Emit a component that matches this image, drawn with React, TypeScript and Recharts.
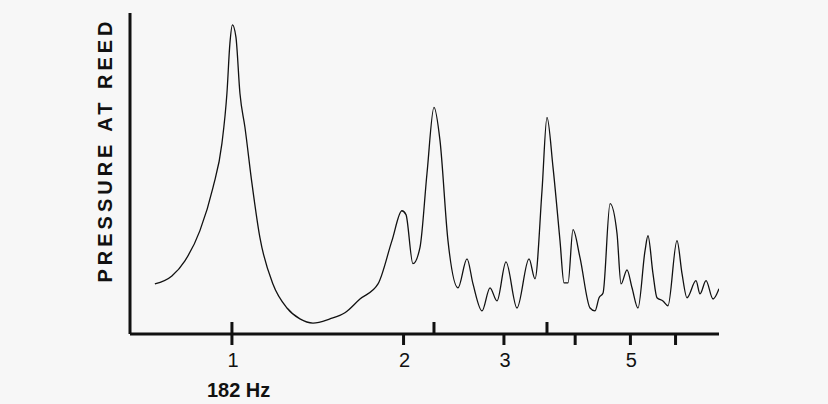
import React from 'react';
import { LineChart, Line, XAxis, YAxis } from 'recharts';

// frequency as a multiple of the first resonance (182 Hz), log axis
const FREQ_RATIO = [
  0.7325, 0.7846, 0.827, 0.8787, 0.9262, 0.9604, 0.98, 0.9919, 1.002, 1.0163,
  1.0328, 1.0539, 1.0842, 1.1197, 1.18, 1.249, 1.316, 1.3874, 1.4855, 1.5782,
  1.6771, 1.804, 1.9086, 1.987, 2.0197, 2.0773, 2.137, 2.1985, 2.2616, 2.317,
  2.393, 2.492, 2.5843, 2.6476, 2.7457, 2.8358, 2.9171, 3.0249, 3.1623, 3.3198,
  3.401, 3.4987, 3.5697, 3.6578, 3.7622, 3.8242, 3.8864, 3.9652, 4.0789, 4.2478,
  4.334, 4.4053, 4.477, 4.6055, 4.7367, 4.8147, 4.9317, 5.0325, 5.1556, 5.3036,
  5.3675, 5.4772, 5.5663, 5.7023, 5.8189, 6.0352, 6.1588, 6.2836, 6.5163, 6.6236,
  6.7856, 6.9804, 7.1512,
];

// relative pressure at the reed (0-100, no scale printed)
const PRESSURE = [
  15.6, 18.1, 22.8, 32.2, 45.6, 59.4, 75, 90.6, 96.3, 92.5,
  75, 64.4, 46.9, 30, 15.6, 8.1, 4.7, 3.4, 4.7, 6.6,
  10.9, 15.6, 29.1, 38.4, 37.2, 21.9, 26.9, 50, 70.6, 60.3,
  29.1, 14.4, 23.4, 15.6, 7.2, 14.4, 10.3, 22.5, 8.1, 23.4,
  17.2, 44.7, 67.5, 51.9, 29.1, 15.9, 15.9, 32.5, 23.8, 8.1,
  7.2, 11.3, 12.8, 40.6, 31.3, 15.6, 20, 14.4, 8.1, 25.9,
  30.6, 18.8, 11.3, 10.3, 8.8, 29.1, 18.8, 11.3, 16.6, 12.5,
  16.6, 10.9, 14.1,
];

const TICKS_BELOW = [1, 2, 3, 4, 5, 6];
const TICKS_ABOVE = [1, 2.2616, 3.5697];
const TICK_LABELS: Record<number, string> = { 1: '1', 2: '2', 3: '3', 5: '5' };
const BASE_LABEL = '182 Hz';

const data = FREQ_RATIO.map((f, i) => ({ f, p: PRESSURE[i] }));
const allTicks = Array.from(new Set([...TICKS_BELOW, ...TICKS_ABOVE])).sort((a, b) => a - b);

const INK = '#111111';
const FONT = '"Liberation Sans", Arial, sans-serif';

const FreqTick = ({ x, y, payload }: any) => {
  const v = payload.value;
  const below = TICKS_BELOW.includes(v);
  const above = TICKS_ABOVE.includes(v);
  return (
    <g>
      <line
        x1={x}
        x2={x}
        y1={above ? y - 12 : y}
        y2={below ? y + 11 : y}
        stroke={INK}
        strokeWidth={3}
      />
      {TICK_LABELS[v] && (
        <text x={x + 1} y={y + 33} textAnchor="middle" fontSize={20} fill={INK} fontFamily={FONT}>
          {TICK_LABELS[v]}
        </text>
      )}
      {v === 1 && (
        <text x={x - 25} y={y + 63} fontSize={20} fontWeight={700} fill={INK} fontFamily={FONT}>
          {BASE_LABEL}
        </text>
      )}
    </g>
  );
};

export default function App() {
  return (
    <div
      style={{
        position: 'absolute',
        left: 0,
        top: 0,
        width: 828,
        height: 404,
        background: '#f7f7f7',
        fontFamily: FONT,
      }}
    >
      <LineChart width={828} height={404} data={data} margin={{ top: 13, right: 109, left: 120, bottom: 10 }}>
        <XAxis
          dataKey="f"
          type="number"
          scale="log"
          domain={[0.6625, 7.151]}
          allowDataOverflow
          ticks={allTicks}
          interval={0}
          tickSize={0}
          tickMargin={0}
          tickLine={false}
          height={60}
          axisLine={{ stroke: INK, strokeWidth: 3 }}
          tick={(props: any) => <FreqTick {...props} />}
        />
        <YAxis
          type="number"
          domain={[0, 100]}
          allowDataOverflow
          width={10}
          tick={false}
          tickLine={false}
          axisLine={{ stroke: INK, strokeWidth: 3 }}
        />
        <Line
          type="monotone"
          dataKey="p"
          stroke={INK}
          strokeWidth={1.3}
          dot={false}
          isAnimationActive={false}
        />
      </LineChart>

      {/* rotated axis title */}
      <div
        style={{
          position: 'absolute',
          left: 105,
          top: 150,
          transform: 'translate(-50%, -50%) rotate(-90deg)',
          whiteSpace: 'nowrap',
          fontSize: 20,
          fontWeight: 700,
          letterSpacing: 4,
          color: INK,
          lineHeight: 1,
        }}
      >
        PRESSURE AT REED
      </div>
    </div>
  );
}
